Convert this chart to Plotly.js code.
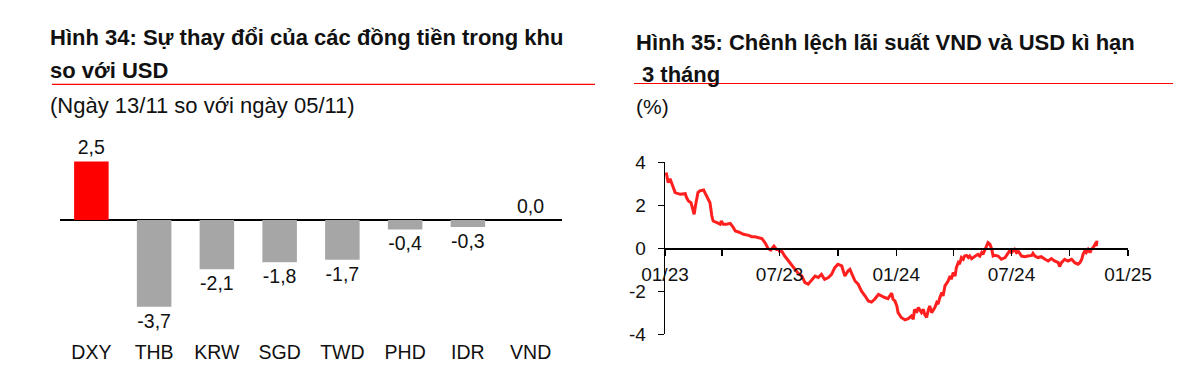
<!DOCTYPE html>
<html>
<head>
<meta charset="utf-8">
<script src="https://cdn.plot.ly/plotly-3.0.1.min.js"></script>
<style>
  html, body { margin: 0; padding: 0; background: #ffffff; }
  #chart { width: 1200px; height: 377px; }
</style>
</head>
<body>
<div id="chart"></div>
<script>
// ---------- DATA ----------
const categories = ['DXY', 'THB', 'KRW', 'SGD', 'TWD', 'PHD', 'IDR', 'VND'];
const changes = [2.5, -3.7, -2.1, -1.8, -1.7, -0.4, -0.3, 0.0];

const spreadDates = [
  '2023-01-03','2023-01-06','2023-01-09','2023-01-12','2023-01-17','2023-01-25','2023-02-02','2023-02-04',
  '2023-02-07','2023-02-11','2023-02-13','2023-02-16','2023-02-18','2023-02-22','2023-02-25','2023-03-03',
  '2023-03-05','2023-03-10','2023-03-13','2023-03-16','2023-03-18','2023-03-24','2023-03-29','2023-03-31',
  '2023-04-03','2023-04-08','2023-04-14','2023-04-19','2023-04-22','2023-04-27','2023-05-05','2023-05-13',
  '2023-05-18','2023-05-23','2023-05-28','2023-06-03','2023-06-08','2023-06-13','2023-06-17','2023-06-22',
  '2023-06-26','2023-06-29','2023-07-01','2023-07-04','2023-07-09','2023-07-15','2023-07-20','2023-07-25',
  '2023-07-30','2023-08-05','2023-08-10','2023-08-15','2023-08-20','2023-08-26','2023-08-31','2023-09-05',
  '2023-09-10','2023-09-16','2023-09-21','2023-09-26','2023-10-01','2023-10-07','2023-10-12','2023-10-17',
  '2023-10-20','2023-10-23','2023-10-28','2023-11-02','2023-11-07','2023-11-13','2023-11-18','2023-11-23',
  '2023-11-28','2023-12-04','2023-12-09','2023-12-14','2023-12-19','2023-12-25','2023-12-27','2023-12-30',
  '2024-01-02','2024-01-04','2024-01-09','2024-01-15','2024-01-20','2024-01-25','2024-01-28','2024-01-30',
  '2024-02-02','2024-02-05','2024-02-10','2024-02-13','2024-02-15','2024-02-18','2024-02-21','2024-02-23',
  '2024-02-26','2024-02-28','2024-03-02','2024-03-05','2024-03-07','2024-03-10','2024-03-13','2024-03-15',
  '2024-03-18','2024-03-23','2024-03-26','2024-03-28','2024-03-31','2024-04-03','2024-04-05','2024-04-08',
  '2024-04-10','2024-04-13','2024-04-16','2024-04-18','2024-04-21','2024-04-24','2024-04-26','2024-04-29',
  '2024-05-04','2024-05-09','2024-05-12','2024-05-15','2024-05-17','2024-05-20','2024-05-23','2024-05-25',
  '2024-05-28','2024-05-31','2024-06-02','2024-06-05','2024-06-10','2024-06-13','2024-06-15','2024-06-21',
  '2024-06-26','2024-06-28','2024-07-01','2024-07-06','2024-07-09','2024-07-12','2024-07-17','2024-07-22',
  '2024-07-27','2024-08-02','2024-08-04','2024-08-07','2024-08-12','2024-08-17','2024-08-23','2024-08-28',
  '2024-09-02','2024-09-07','2024-09-13','2024-09-15','2024-09-18','2024-09-23','2024-09-28','2024-10-04',
  '2024-10-09','2024-10-14','2024-10-17','2024-10-20','2024-10-22','2024-10-25','2024-10-27','2024-10-30',
  '2024-11-02','2024-11-04','2024-11-07','2024-11-10','2024-11-12','2024-11-13'
];
const spreadValues = [
  3.52, 3.05, 3.24, 2.98, 2.59, 2.51, 2.54, 2.36,
  2.20, 2.12, 1.89, 1.58, 1.97, 2.59, 2.67, 2.71,
  2.59, 2.28, 2.12, 1.50, 1.27, 1.19, 1.12, 1.27,
  1.12, 1.12, 1.16, 0.96, 0.81, 0.76, 0.65, 0.60,
  0.54, 0.54, 0.50, 0.45, 0.26, -0.02, -0.08, 0.10,
  -0.05, -0.05, -0.15, -0.12, -0.36, -0.59, -0.74, -0.98,
  -1.16, -1.29, -1.60, -1.67, -1.52, -1.29, -1.36, -1.21,
  -1.44, -1.36, -1.21, -0.90, -0.74, -0.82, -1.29, -1.05,
  -0.98, -1.21, -1.52, -1.67, -1.98, -2.22, -2.45, -2.50,
  -2.37, -2.14, -2.22, -2.29, -2.34, -2.09, -2.37, -2.45,
  -2.68, -2.99, -3.22, -3.33, -3.27, -3.15, -3.30, -2.84,
  -2.99, -2.76, -2.99, -2.84, -3.07, -3.22, -2.84, -2.68,
  -2.99, -2.91, -2.76, -2.53, -2.60, -2.29, -2.06, -2.22,
  -1.75, -1.52, -1.29, -1.44, -1.13, -1.29, -0.90, -0.67,
  -0.74, -0.43, -0.51, -0.36, -0.33, -0.43, -0.36, -0.48,
  -0.36, -0.28, -0.36, -0.20, -0.28, -0.05, 0.11, 0.26,
  0.19, -0.05, -0.36, -0.33, -0.36, -0.43, -0.51, -0.43,
  -0.20, -0.12, -0.20, -0.05, -0.20, -0.15, -0.36, -0.39,
  -0.36, -0.33, -0.23, -0.36, -0.43, -0.39, -0.51, -0.59,
  -0.48, -0.59, -0.67, -0.85, -0.67, -0.51, -0.59, -0.51,
  -0.67, -0.74, -0.67, -0.51, -0.28, -0.12, -0.20, -0.05,
  -0.20, -0.05, 0.03, 0.19, 0.11, 0.36
];

const xTickVals = ['2023-01-01','2023-04-01','2023-07-01','2023-10-01','2024-01-01',
                   '2024-04-01','2024-07-01','2024-10-01','2025-01-01'];
const xTickText = ['01/23','','07/23','','01/24','','07/24','','01/25'];
const yTickVals = [-4, -2, 0, 2, 4];
const yTickText = ['-4', '-2', '0', '2', '4'];

const titleLeft1 = 'Hình 34: Sự thay đổi của các đồng tiền trong khu';
const titleLeft2 = 'so với USD';
const subtitleLeft = '(Ngày 13/11 so với ngày 05/11)';
const titleRight1 = 'Hình 35: Chênh lệch lãi suất VND và USD kì hạn';
const titleRight2 = '3 tháng';
const unitRight = '(%)';

// ---------- LAYOUT HELPERS ----------
const W = 1200, H = 377;
const px = v => v / W;
const py = v => 1 - v / H;
const FONT = 'Liberation Sans, Arial, Helvetica, sans-serif';
const RED = '#ff0000';
const GRAY = '#a6a6a6';
const TXT = '#111111';

const barText = changes.map(v => v.toFixed(1).replace('.', ','));
const barColors = categories.map(c => c === 'DXY' ? RED : GRAY);

const y2Domain = [py(334.3), py(162.3)];

const traces = [
  {
    type: 'bar',
    x: categories,
    y: changes,
    text: barText,
    textposition: 'outside',
    textfont: { family: FONT, size: 19.5, color: TXT },
    cliponaxis: false,
    marker: { color: barColors, line: { width: 0 } },
    xaxis: 'x', yaxis: 'y',
    hoverinfo: 'skip'
  },
  {
    type: 'scatter',
    mode: 'lines',
    x: spreadDates,
    y: spreadValues,
    line: { color: '#ff1f1f', width: 3 },
    xaxis: 'x2', yaxis: 'y2',
    hoverinfo: 'skip'
  }
];

const layout = {
  width: W, height: H,
  autosize: false,
  margin: { l: 0, r: 0, t: 0, b: 0, pad: 0 },
  paper_bgcolor: '#ffffff',
  plot_bgcolor: 'rgba(0,0,0,0)',
  showlegend: false,
  bargap: 0.45,
  font: { family: FONT, color: TXT },
  xaxis: {
    domain: [px(60), px(562)],
    anchor: 'y',
    type: 'category',
    range: [-0.5, 7.5],
    showline: false, showgrid: false, zeroline: false,
    ticks: '',
    tickfont: { family: FONT, size: 19.5, color: TXT },
    fixedrange: true
  },
  yaxis: {
    domain: [py(338), py(150)],
    anchor: 'x',
    range: [-(338 - 220) / 23.45, (220 - 150) / 23.45],
    showline: false, showgrid: false, showticklabels: false, ticks: '',
    zeroline: true, zerolinecolor: '#000', zerolinewidth: 1.6,
    fixedrange: true
  },
  xaxis2: {
    domain: [px(665), px(1128)],
    anchor: 'free',
    position: (y2Domain[0] + y2Domain[1]) / 2,
    type: 'date',
    range: ['2023-01-01', '2025-01-01'],
    tickmode: 'array',
    tickvals: xTickVals,
    ticktext: xTickText,
    ticks: 'outside', ticklen: 6, tickwidth: 1.3, tickcolor: '#000',
    ticklabelstandoff: 3,
    showline: true, linecolor: '#000', linewidth: 1.3,
    showgrid: false, zeroline: false,
    tickfont: { family: FONT, size: 19, color: TXT },
    fixedrange: true
  },
  yaxis2: {
    domain: y2Domain,
    anchor: 'x2',
    range: [-4, 4],
    tickmode: 'array',
    tickvals: yTickVals,
    ticktext: yTickText,
    ticks: 'outside', ticklen: 6, tickwidth: 1.3, tickcolor: '#000',
    ticklabelstandoff: 8,
    showline: true, linecolor: '#000', linewidth: 1.3,
    showgrid: false, zeroline: false,
    tickfont: { family: FONT, size: 19, color: TXT },
    fixedrange: true
  },
  shapes: [
    { type: 'line', xref: 'paper', yref: 'paper', x0: px(52), x1: px(595), y0: py(84.3), y1: py(84.3),
      line: { color: RED, width: 1.2 } },
    { type: 'line', xref: 'paper', yref: 'paper', x0: px(634), x1: px(1173), y0: py(83.5), y1: py(83.5),
      line: { color: RED, width: 1.2 } }
  ],
  annotations: [
    { text: '<b>' + titleLeft1 + '</b>', xref: 'paper', yref: 'paper', x: px(48), y: py(37),
      xanchor: 'left', yanchor: 'middle', showarrow: false, font: { family: FONT, size: 22, color: TXT } },
    { text: '<b>' + titleLeft2 + '</b>', xref: 'paper', yref: 'paper', x: px(48), y: py(71),
      xanchor: 'left', yanchor: 'middle', showarrow: false, font: { family: FONT, size: 22, color: TXT } },
    { text: subtitleLeft, xref: 'paper', yref: 'paper', x: px(48), y: py(105),
      xanchor: 'left', yanchor: 'middle', showarrow: false, font: { family: FONT, size: 22, color: TXT } },
    { text: '<b>' + titleRight1 + '</b>', xref: 'paper', yref: 'paper', x: px(634), y: py(42),
      xanchor: 'left', yanchor: 'middle', showarrow: false, font: { family: FONT, size: 22, color: TXT } },
    { text: '<b>' + titleRight2 + '</b>', xref: 'paper', yref: 'paper', x: px(640), y: py(75),
      xanchor: 'left', yanchor: 'middle', showarrow: false, font: { family: FONT, size: 22, color: TXT } },
    { text: unitRight, xref: 'paper', yref: 'paper', x: px(634), y: py(107),
      xanchor: 'left', yanchor: 'middle', showarrow: false, font: { family: FONT, size: 21, color: TXT } }
  ]
};

Plotly.newPlot('chart', traces, layout, { staticPlot: true, displayModeBar: false });
</script>
</body>
</html>
